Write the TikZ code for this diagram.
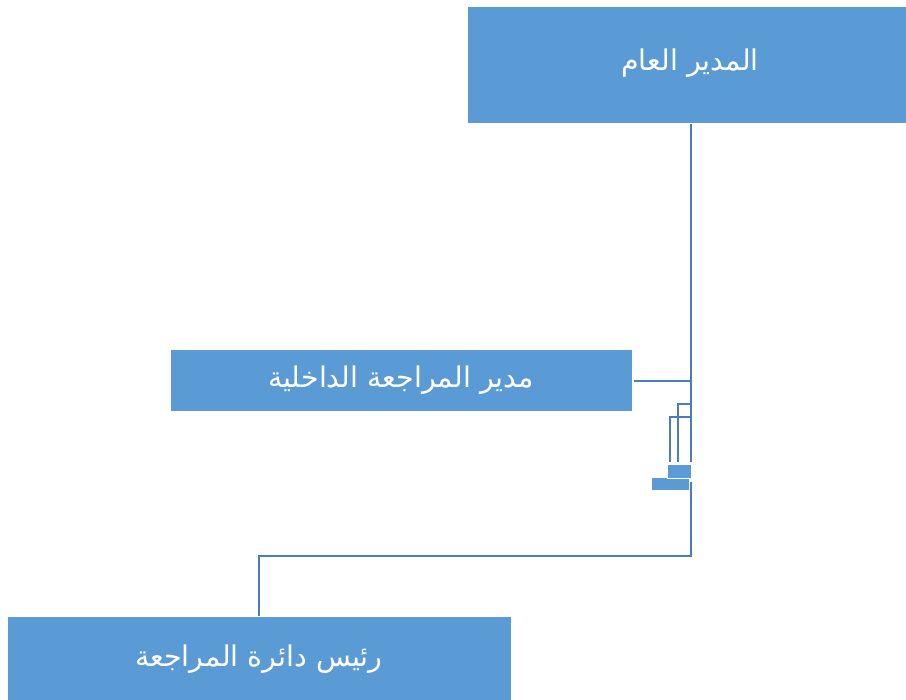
\documentclass[tikz,border=0pt]{standalone}
\usepackage{fontspec}
\TeXXeTstate=1
\newfontfamily\arabicfont[Script=Arabic]{DejaVu Sans}
\definecolor{boxblue}{HTML}{5B9BD5}
\definecolor{lineblue}{HTML}{4A7EBB}
\tikzset{
  orgbox/.style={rectangle, fill=boxblue, draw=white, line width=0.8pt, text=white, inner sep=0pt,
     font=\arabicfont\fontsize{28.5}{32}\selectfont},
  tinybox/.style={rectangle, fill=boxblue, draw=white, line width=0.8pt, inner sep=0pt},
  link/.style={draw=lineblue, line width=2pt}
}
\begin{document}
\begin{tikzpicture}[x=1pt,y=-1pt]
\clip (0,0) rectangle (906,700);
\useasboundingbox (0,0) rectangle (906,700);
\fill[white] (0,0) rectangle (906,700);
% main trunk coordinates
\coordinate (m) at (691,0);
\coordinate (j1) at (691,462);
\coordinate (j2) at (691,482);
\coordinate (ymid) at (0,556);
% boxes
\node[orgbox, minimum width=440pt, minimum height=117pt] (top) at (687,65) {};
\node[text=white, font=\arabicfont\fontsize{28.5}{32}\selectfont, inner sep=0pt] (toptext) at (690,63) {\beginR المدير العام\endR};
\node[orgbox, minimum width=462pt, minimum height=62pt] (mid) at (401,380) {\beginR مدير المراجعة الداخلية\endR};
\node[orgbox, minimum width=504pt, minimum height=86pt] (bot) at (259,659) {\beginR رئيس دائرة المراجعة\endR};
% connectors
\draw[link] (top.south -| m) -- (j1);
\draw[link] (mid.east |- 0,381) ++(2,0) -- (691,381);
\draw[link] (691,404) -- (678,404) -- (678,462);
\draw[link] (691,417) -- (670,417) -- (670,462);
\draw[link] (j2) -- (ymid -| m) -- (ymid -| bot) -- (bot.north);
% small boxes
\node[tinybox, minimum width=38pt, minimum height=13pt] (s2) at (670.5,484) {};
\node[tinybox, minimum width=24pt, minimum height=14pt] (s1) at (679,471.5) {};
\end{tikzpicture}
\end{document}
